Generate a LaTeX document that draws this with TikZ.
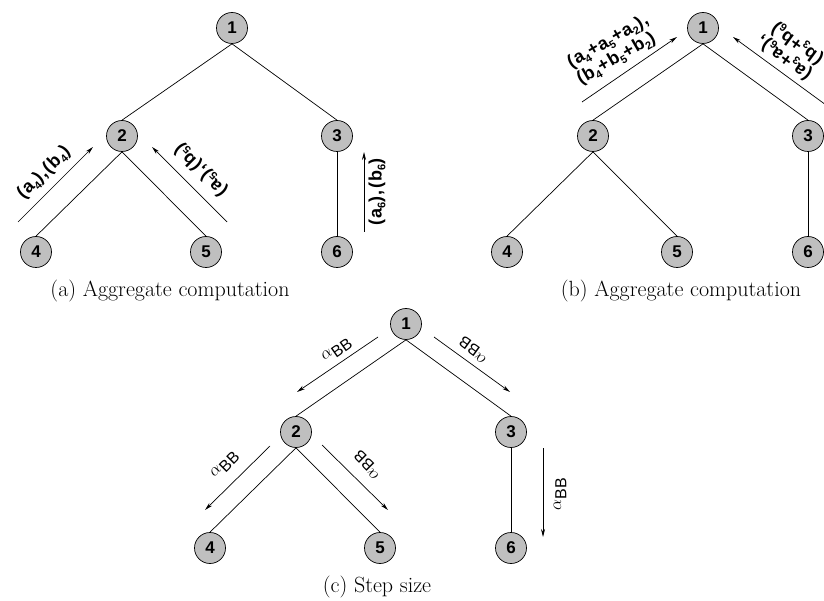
\documentclass[tikz,border=0pt]{standalone}
\usepackage{fontspec}
\setsansfont{Liberation Sans}
\newfontfamily\lblfam[LetterSpace=6]{Liberation Sans}
\usetikzlibrary{arrows.meta,calc}
\newcommand\sbs[1]{\raisebox{-0.4ex}{\fontsize{11}{11}\selectfont #1}}
\begin{document}
\begin{tikzpicture}[x=1pt,y=-1pt,
  nd/.style={circle,draw=black,fill=black!25,line width=0.7pt,minimum size=31pt,inner sep=0pt,
    font=\fontsize{17}{17}\selectfont\sffamily\bfseries},
  edge/.style={line width=0.7pt},
  arr/.style={line width=0.7pt,-{Stealth[length=8pt,width=4pt]}},
  lbl/.style={font=\fontsize{18}{19}\selectfont\lblfam\bfseries,inner sep=0pt},
  lbltwo/.style={lbl,align=left},
  alb/.style={font=\fontsize{16}{17}\selectfont,inner sep=0pt},
  captxt/.style={font=\fontsize{22}{24}\selectfont,inner sep=0pt}]
\path[use as bounding box] (0,0) rectangle (824,601);
% (a)
\node[nd] (a1) at (232,28) {1};
\node[nd] (a2) at (122,136) {2};
\node[nd] (a3) at (337,136) {3};
\node[nd] (a4) at (36,252) {4};
\node[nd] (a5) at (206,252) {5};
\node[nd] (a6) at (337,252) {6};
\draw[edge] (a1.south) -- (a2.north);
\draw[edge] (a1.south) -- (a3.north);
\draw[edge] (a2.south) -- (a4.north);
\draw[edge] (a2.south) -- (a5.north);
\draw[edge] (a3.south) -- (a6.north);
\coordinate (aLs) at (18,222); \coordinate (aLe) at (93,147);
\coordinate (aRs) at (227,222); \coordinate (aRe) at (152,147);
\coordinate (aVs) at (364,232); \coordinate (aVe) at (364,152);
\draw[arr] (aLs) -- (aLe);
\draw[arr] (aRs) -- (aRe);
\draw[arr] (aVs) -- (aVe);
\node[lbl,rotate=45] (laL) at (44,173) {(a\sbs4),(b\sbs4)};
\node[lbl,rotate=135] (laR) at (201,170) {(a\sbs5),(b\sbs5)};
\node[lbl,rotate=90] (laV) at (377,192) {(a\sbs6),(b\sbs6)};
\node[captxt] (capa) at (170,291) {(a) Aggregate computation};
% (b)
\node[nd] (b1) at (703,28) {1};
\node[nd] (b2) at (593,136) {2};
\node[nd] (b3) at (808,136) {3};
\node[nd] (b4) at (507,252) {4};
\node[nd] (b5) at (677,252) {5};
\node[nd] (b6) at (808,252) {6};
\draw[edge] (b1.south) -- (b2.north);
\draw[edge] (b1.south) -- (b3.north);
\draw[edge] (b2.south) -- (b4.north);
\draw[edge] (b2.south) -- (b5.north);
\draw[edge] (b3.south) -- (b6.north);
\coordinate (bLs) at (582,102); \coordinate (bLe) at (677,37);
\coordinate (bRs) at (826,105); \coordinate (bRe) at (733,37);
\draw[arr] (bLs) -- (bLe);
\draw[arr] (bRs) -- (bRe);
\node[lbltwo,rotate=30] (lbL) at (613,50) {(a\sbs4+a\sbs5+a\sbs2),\\(b\sbs4+b\sbs5+b\sbs2)};
\node[lbltwo,rotate=144] (lbR) at (790,50) {(a\sbs3+a\sbs6),\\(b\sbs3+b\sbs6)};
\node[captxt] (capb) at (681,291) {(b) Aggregate computation};
% (c)
\node[nd] (c1) at (406,324) {1};
\node[nd] (c2) at (296,432) {2};
\node[nd] (c3) at (511,432) {3};
\node[nd] (c4) at (210,548) {4};
\node[nd] (c5) at (380,548) {5};
\node[nd] (c6) at (511,548) {6};
\draw[edge] (c1.south) -- (c2.north);
\draw[edge] (c1.south) -- (c3.north);
\draw[edge] (c2.south) -- (c4.north);
\draw[edge] (c2.south) -- (c5.north);
\draw[edge] (c3.south) -- (c6.north);
\coordinate (c12s) at (378,337); \coordinate (c12e) at (297,392);
\coordinate (c13s) at (434,337); \coordinate (c13e) at (510,392);
\coordinate (c24s) at (270,446); \coordinate (c24e) at (205,510);
\coordinate (c25s) at (322,445); \coordinate (c25e) at (388,510);
\coordinate (c36s) at (543,448); \coordinate (c36e) at (543,537);
\draw[arr] (c12s) -- (c12e);
\draw[arr] (c13s) -- (c13e);
\draw[arr] (c24s) -- (c24e);
\draw[arr] (c25s) -- (c25e);
\draw[arr] (c36s) -- (c36e);
\node[alb,rotate=35] (l12) at (337,350) {$\alpha_{\textsf{BB}}$};
\node[alb,rotate=144] (l13) at (473,350) {$\alpha_{\textsf{BB}}$};
\node[alb,rotate=45] (l24) at (225,465) {$\alpha_{\textsf{BB}}$};
\node[alb,rotate=135] (l25) at (367,465) {$\alpha_{\textsf{BB}}$};
\node[alb,rotate=90] (l36) at (560,494) {$\alpha_{\textsf{BB}}$};
\node[captxt] (capc) at (377,587) {(c) Step size};
\end{tikzpicture}
\end{document}
